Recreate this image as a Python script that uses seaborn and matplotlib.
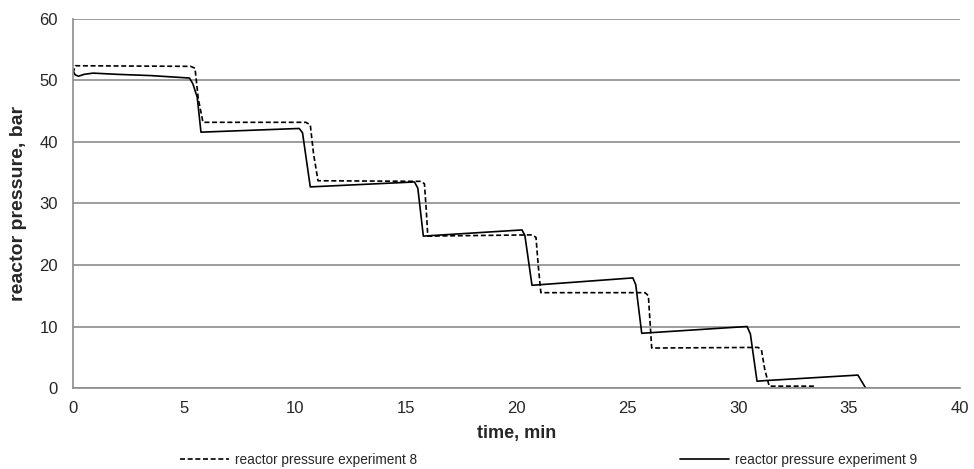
import matplotlib
matplotlib.use("Agg")
import matplotlib.pyplot as plt
import seaborn as sns
import pandas as pd

# experiment 8 (dashed)
t8 = [0.0, 0.1, 5.3, 5.5, 5.65, 5.86, 10.5, 10.7, 10.85, 11.05, 15.7, 15.85, 15.93, 16.0,
      20.7, 20.88, 20.98, 21.1, 25.8, 25.95, 26.02, 26.1, 30.9, 31.05, 31.2, 31.4, 33.45]
p8 = [51.2, 52.4, 52.3, 52.0, 47.0, 43.2, 43.2, 42.8, 38.0, 33.7, 33.6, 33.2, 29.0, 24.7,
      24.9, 24.5, 20.0, 15.5, 15.5, 15.0, 11.0, 6.5, 6.6, 6.2, 3.0, 0.3, 0.3]

# experiment 9 (solid)
t9 = [0.0, 0.1, 0.25, 0.5, 0.9, 2.0, 3.5, 5.25, 5.4, 5.6, 5.77, 10.2, 10.35, 10.7,
      15.4, 15.55, 15.8, 20.25, 20.38, 20.7, 25.25, 25.38, 25.65, 30.4, 30.55, 30.85,
      31.2, 35.4, 35.75]
p9 = [51.5, 50.9, 50.7, 51.0, 51.2, 51.0, 50.8, 50.4, 49.5, 47.3, 41.6, 42.2, 41.5, 32.7,
      33.5, 32.5, 24.7, 25.7, 24.8, 16.7, 17.9, 16.8, 8.9, 10.0, 8.8, 1.1,
      1.2, 2.1, 0.0]

df = pd.concat([
    pd.DataFrame({"time": t8, "pressure": p8, "series": "reactor pressure experiment 8"}),
    pd.DataFrame({"time": t9, "pressure": p9, "series": "reactor pressure experiment 9"}),
], ignore_index=True)

sns.set_style("white")
plt.rcParams['font.family'] = ['Liberation Sans', 'DejaVu Sans']

fig = plt.figure(figsize=(9.74, 4.69), dpi=100)
ax = fig.add_axes([0.075, 0.1727, 0.9105, 0.7868])

sns.lineplot(data=df, x="time", y="pressure", hue="series", style="series",
             palette=["black", "black"], dashes=[(3, 1.6), ""], linewidth=1.2,
             sort=False, estimator=None, ax=ax)

ax.set_xlim(0, 40)
ax.set_ylim(0, 60)
ax.set_xticks(range(0, 41, 5))
ax.set_yticks(range(0, 61, 10))
ax.grid(axis="y", color="#8c8c8c", linewidth=1.2)
ax.set_axisbelow(True)
for s in ["top", "right"]:
    ax.spines[s].set_visible(False)
for s in ["left", "bottom"]:
    ax.spines[s].set_color("#8c8c8c")
    ax.spines[s].set_linewidth(1.2)
ax.tick_params(axis="both", direction="out", length=5, width=1.0, color="#8c8c8c",
               labelsize=12)
ax.tick_params(axis="y", pad=6)
ax.tick_params(axis="x", pad=4)
ax.set_xlabel("time, min", fontsize=13, fontweight="bold", labelpad=7)
ax.set_ylabel("reactor pressure, bar", fontsize=14, fontweight="bold", labelpad=9)

ax.legend(loc="upper center", bbox_to_anchor=(0.536, -0.142), ncol=2, frameon=False,
          fontsize=9.8, columnspacing=19.3, handlelength=3.6, handletextpad=0.45)

fig.savefig("out.png", dpi=100)
